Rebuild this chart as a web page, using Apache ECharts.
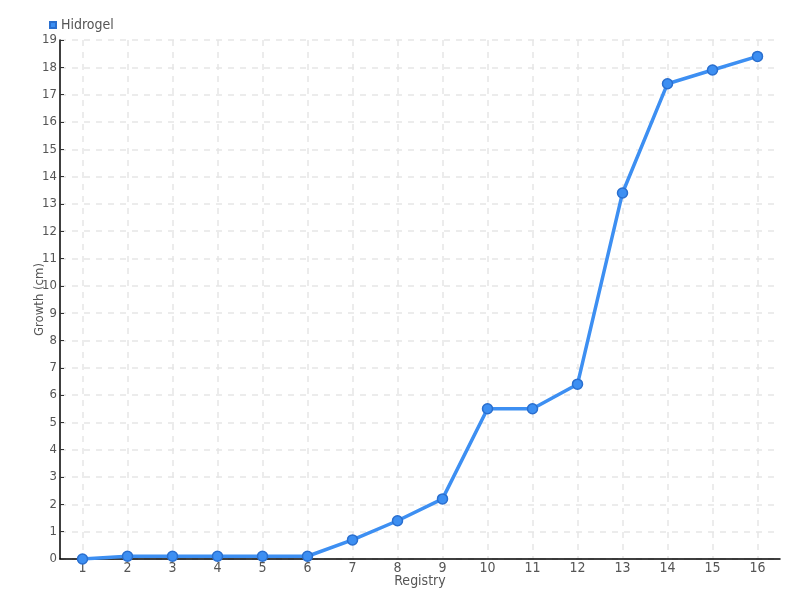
<!DOCTYPE html>
<html><head><meta charset="utf-8">
<script src="https://cdn.jsdelivr.net/npm/echarts@6/dist/echarts.min.js"></script>
<style>html,body{margin:0;padding:0;background:#fff}#c{width:800px;height:600px}</style>
</head><body><div id="c"></div>
<script>
const categories = ['1','2','3','4','5','6','7','8','9','10','11','12','13','14','15','16'];
const hidrogel = [0, 0.1, 0.1, 0.1, 0.1, 0.1, 0.7, 1.4, 2.2, 5.5, 5.5, 6.4, 13.4, 17.4, 17.9, 18.4];
const seriesName = 'Hidrogel';
const chart = echarts.init(document.getElementById('c'));
const font = '"DejaVu Sans Condensed", "Liberation Sans Narrow", sans-serif';
chart.setOption({
  animation: false,
  textStyle: {fontFamily: font},
  legend: {left: 44, top: 13, itemWidth: 6, itemHeight: 6, itemGap: 3, icon: 'rect',
    textStyle: {color: '#555', fontSize: 14, fontFamily: font}, data: [seriesName]},
  grid: {left: 60, right: 20, top: 40, bottom: 41, containLabel: false},
  xAxis: {type: 'category', data: categories, boundaryGap: true,
    name: 'Registry', nameLocation: 'middle', nameGap: 15, nameMoveOverlap: false,
    nameTextStyle: {color: '#555', fontSize: 14, fontFamily: font},
    axisLine: {lineStyle: {color: '#000', width: 1.5}},
    axisTick: {alignWithLabel: true, inside: true, length: 4, lineStyle: {color: '#333'}},
    axisLabel: {color: '#555', fontSize: 14, margin: 2, fontFamily: font},
    splitLine: {show: true, alignWithLabel: true, lineStyle: {color: '#e6e6e6', type: [6, 6], width: 1.5}}
  },
  yAxis: {type: 'value', min: 0, max: 19, interval: 1,
    name: 'Growth (cm)', nameLocation: 'middle', nameGap: 14, nameMoveOverlap: false,
    nameTextStyle: {color: '#555', fontSize: 13, fontFamily: font},
    axisLine: {show: true, lineStyle: {color: '#000', width: 1.5}},
    axisTick: {show: true, inside: true, length: 4, lineStyle: {color: '#333'}},
    axisLabel: {color: '#555', fontSize: 13, margin: 3, fontFamily: font},
    splitLine: {show: true, lineStyle: {color: '#e6e6e6', type: [6, 6], width: 1.5}}
  },
  series: [{name: seriesName, type: 'line', data: hidrogel,
    symbol: 'circle', symbolSize: 10,
    lineStyle: {color: '#3d8ff2', width: 3.5},
    itemStyle: {color: '#3d8ff2', borderColor: '#2a6fcf', borderWidth: 1.5}}]
});
</script></body></html>
